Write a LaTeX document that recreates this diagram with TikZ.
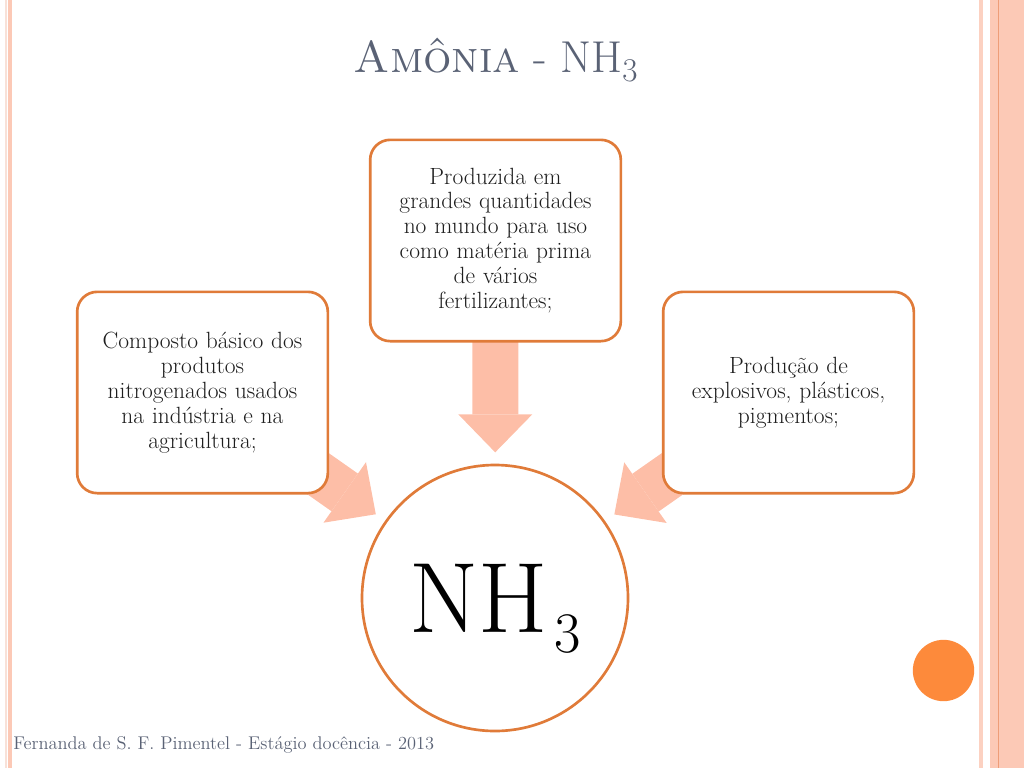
\documentclass[tikz,border=0pt]{standalone}
\usepackage{xcolor}
\usepackage{tikz}
\usetikzlibrary{arrows.meta, positioning, backgrounds}

\definecolor{boxorange}{HTML}{E07B39}
\definecolor{arrowpink}{HTML}{FDBEA7}
\definecolor{titlegray}{HTML}{5A6275}
\definecolor{dotorange}{HTML}{FD8A3B}
\definecolor{stripe}{HTML}{FCC9B6}
\definecolor{stripelight}{HTML}{F8E1D8}
\definecolor{stripeline}{HTML}{EE9D78}
\definecolor{textdark}{HTML}{1E1E1E}

\begin{document}
\begin{tikzpicture}[
    x=0.75pt, y=-0.75pt,
    box/.style={rectangle, draw=boxorange, line width=2pt, fill=white, rounded corners=15pt, minimum width=188pt, minimum height=151pt, text width=180pt, align=center, text=textdark, font=\fontsize{17.6}{18.7}\selectfont},
    hub/.style={circle, draw=boxorange, line width=2pt, fill=white, minimum size=199.5pt, inner sep=0pt, text depth=0pt, text=black, font=\fontsize{75}{80}\selectfont},
    bigarrow/.style={draw=arrowpink, line width=34.5pt, -{Triangle[width=55.5pt, length=28.5pt, line width=0pt]}, shorten >=8.5pt},
    heading/.style={text=titlegray, font=\fontsize{33.5}{40}\selectfont, anchor=base},
    credit/.style={text=titlegray, font=\fontsize{13.8}{16}\selectfont, anchor=base west, inner sep=0pt}
]
\useasboundingbox (0,0) rectangle (1024,768);

% Page frame
\fill[stripelight] (5,0) rectangle (7,768);
\fill[stripe] (8,0) rectangle (12,768);
\fill[stripe!85] (979,0) rectangle (983,768);
\fill[stripe] (990,0) rectangle (1024,768);
\draw[stripeline, line width=0.6pt] (998.5,0) -- (998.5,768);

% Nodes
\node [heading] (title) at (496,72) {\textsc{Amônia} - NH$_3$};
\node [box] (top) at (495.5,240.5) {Produzida em\\ grandes quantidades\\ no mundo para uso\\ como matéria prima\\ de vários\\ fertilizantes;};
\node [box] (left) at (202.5,392.5) {Composto básico dos\\ produtos\\ nitrogenados usados\\ na indústria e na\\ agricultura;};
\node [box] (right) at (788.5,392.5) {Produção de\\ explosivos, plásticos,\\ pigmentos;};
\node [hub] (nh3) at (495,598) {NH\kern5pt\raisebox{-15pt}{\fontsize{43}{43}\selectfont 3}};
\node [circle, fill=dotorange, minimum size=46pt, inner sep=0pt] (dot) at (943.5,670.5) {};
\node [credit] (footer) at (13,749) {Fernanda de S. F. Pimentel - Estágio docência - 2013};

% Arrows
\begin{scope}[on background layer]
    \draw [bigarrow] (top.center) -- (nh3);
    \draw [bigarrow] (left.center) -- (nh3);
    \draw [bigarrow] (right.center) -- (nh3);
\end{scope}

\end{tikzpicture}
\end{document}
